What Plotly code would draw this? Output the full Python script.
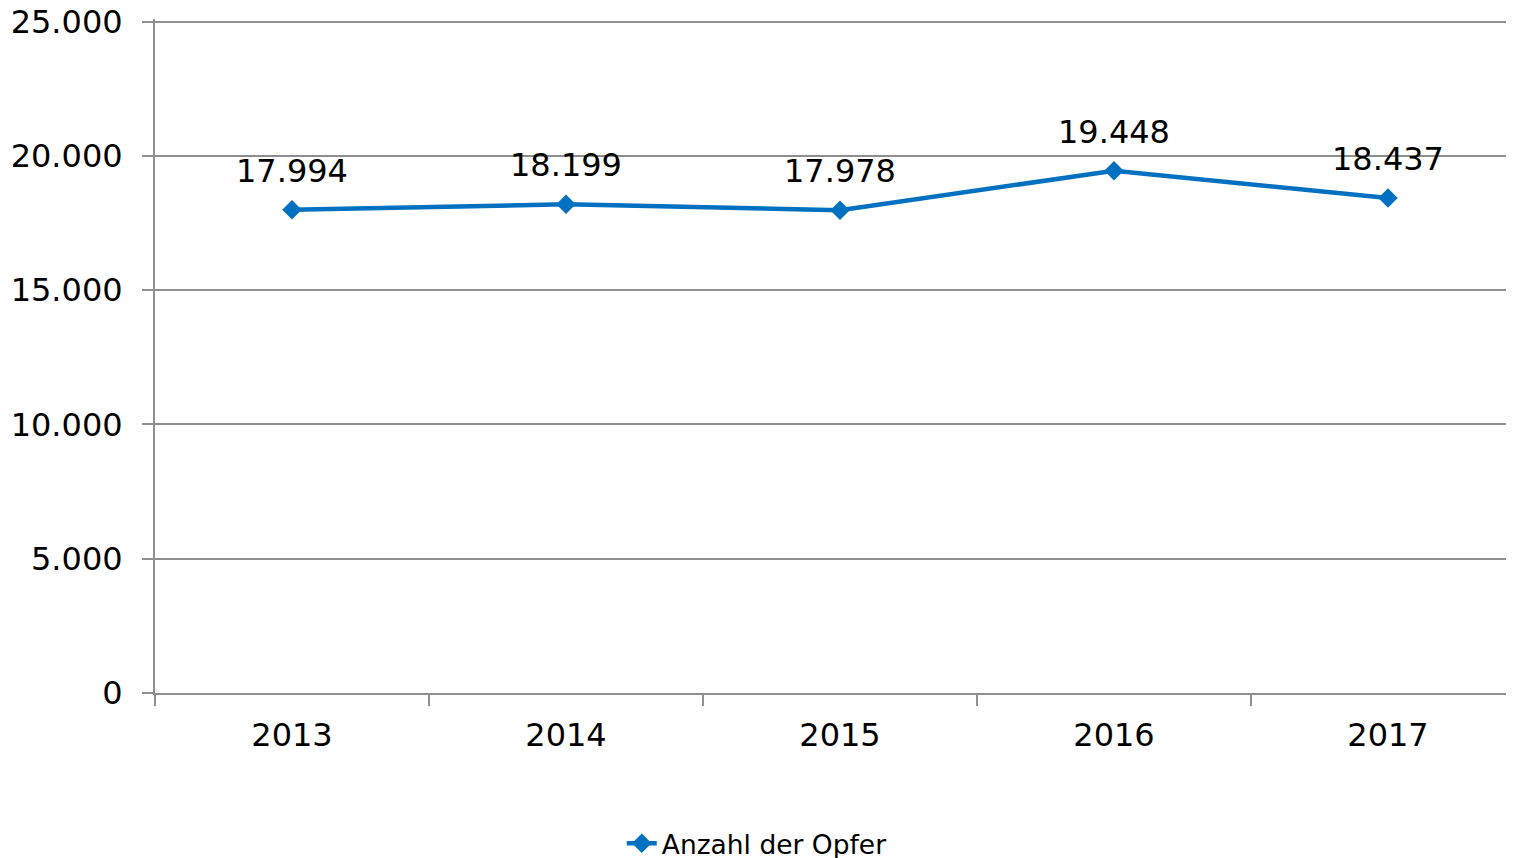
import plotly.graph_objects as go

years = ["2013", "2014", "2015", "2016", "2017"]
opfer = [17994, 18199, 17978, 19448, 18437]
y_ticks = [0, 5000, 10000, 15000, 20000, 25000]

blue = "#0070C0"
grid = "#8E8E8E"

fig = go.Figure()
fig.add_trace(
    go.Scatter(
        x=years,
        y=opfer,
        name="Anzahl der Opfer",
        mode="lines+markers",
        line=dict(color=blue, width=4.5),
        marker=dict(symbol="diamond", size=15, color=blue),
    )
)

# value labels above each point (category index used for x)
for i, val in enumerate(opfer):
    fig.add_annotation(
        x=i,
        y=val,
        text=f"{val:,}".replace(",", "."),
        showarrow=False,
        yanchor="middle",
        yshift=39,
        font=dict(size=32, color="black"),
    )

fig.update_layout(
    width=1514,
    height=858,
    margin=dict(l=147, r=0, t=11.3, b=173, autoexpand=False),
    paper_bgcolor="white",
    plot_bgcolor="white",
    separators=",.",
    font=dict(family="DejaVu Sans, Verdana, sans-serif", color="black", size=32),
    showlegend=True,
    legend=dict(
        orientation="h",
        x=0.4402,
        xanchor="center",
        y=-0.2235,
        yanchor="middle",
        font=dict(size=26.5),
    ),
    xaxis=dict(
        type="category",
        range=[-0.5, 4.489],
        showline=True,
        linecolor=grid,
        linewidth=2,
        showgrid=False,
        tickson="boundaries",
        ticks="outside",
        ticklen=11,
        tickcolor=grid,
        tickwidth=2,
        ticklabelstandoff=13,
        tickfont=dict(size=32),
    ),
    yaxis=dict(
        range=[0, 25100],
        tickvals=y_ticks,
        tickformat=",d",
        showline=True,
        linecolor=grid,
        linewidth=2,
        showgrid=True,
        gridcolor=grid,
        gridwidth=2,
        zeroline=False,
        ticks="outside",
        ticklen=11,
        tickcolor=grid,
        tickwidth=2,
        ticklabelstandoff=13,
        ticklabeloverflow="allow",
        tickfont=dict(size=32),
    ),
)

fig.write_html("out.html")
